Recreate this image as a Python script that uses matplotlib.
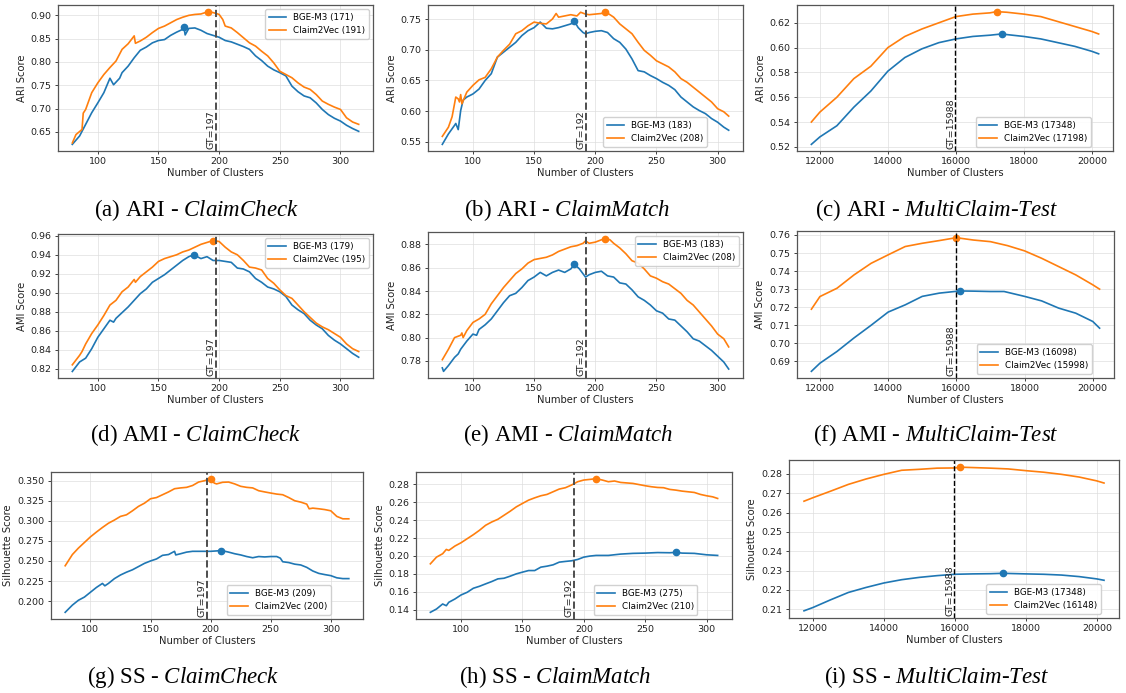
import matplotlib
matplotlib.use('Agg')
import matplotlib.pyplot as plt
import matplotlib.transforms as mtransforms
from matplotlib.ticker import MultipleLocator

plt.rcParams['mathtext.fontset'] = 'custom'
plt.rcParams['mathtext.rm'] = 'Liberation Serif'
plt.rcParams['mathtext.it'] = 'Liberation Serif:italic'

BLUE = '#1f77b4'
ORANGE = '#ff7f0e'

# ---- (a) ARI - ClaimCheck
a_bge_x = [79,85,90,95,100,105,110,113,118,120,125,130,135,140,145,150,155,160,165,170,171,172,175,180,185,190,195,200,205,210,215,220,225,230,235,240,245,250,255,260,265,270,275,280,285,290,295,300,305,310,315]
a_bge = [0.623,0.641,0.666,0.691,0.712,0.734,0.765,0.751,0.765,0.777,0.791,0.809,0.825,0.832,0.841,0.846,0.848,0.857,0.864,0.870,0.875,0.858,0.872,0.873,0.868,0.861,0.857,0.853,0.846,0.843,0.838,0.833,0.827,0.813,0.803,0.791,0.783,0.777,0.770,0.748,0.736,0.727,0.723,0.712,0.698,0.687,0.679,0.673,0.664,0.657,0.651]
a_c2v_x = [79,82,87,88,90,95,100,105,110,115,120,125,130,131,135,140,145,150,155,160,165,170,175,180,185,191,195,200,203,205,210,215,220,225,230,235,240,245,250,255,260,265,270,275,280,285,290,295,300,305,310,315]
a_c2v = [0.626,0.644,0.655,0.690,0.698,0.734,0.755,0.773,0.788,0.802,0.827,0.839,0.856,0.840,0.845,0.853,0.863,0.872,0.877,0.884,0.891,0.896,0.900,0.902,0.903,0.908,0.906,0.902,0.891,0.877,0.873,0.863,0.852,0.841,0.834,0.823,0.813,0.798,0.780,0.773,0.766,0.755,0.746,0.741,0.730,0.716,0.709,0.703,0.698,0.680,0.671,0.666]

# ---- (b) ARI - ClaimMatch
b_bge_x = [75,80,85,86,88,90,92,95,100,105,110,115,120,125,130,135,140,145,150,155,160,165,170,175,180,183,186,190,192,195,200,205,210,215,220,225,230,235,240,245,250,255,260,265,270,275,280,285,290,295,300,305,309]
b_bge = [0.546,0.563,0.577,0.580,0.570,0.601,0.618,0.623,0.628,0.636,0.650,0.661,0.688,0.696,0.704,0.712,0.723,0.731,0.736,0.745,0.735,0.734,0.736,0.739,0.742,0.746,0.736,0.728,0.726,0.728,0.730,0.731,0.728,0.718,0.712,0.701,0.685,0.666,0.664,0.658,0.653,0.647,0.642,0.635,0.623,0.615,0.607,0.601,0.596,0.588,0.582,0.574,0.569]
b_c2v_x = [75,80,83,86,88,89,90,91,95,100,105,110,115,120,125,130,135,140,145,150,155,160,165,168,170,175,180,185,188,192,195,200,205,208,212,215,220,225,230,235,240,245,250,255,260,265,270,275,280,285,290,295,300,305,309]
b_c2v = [0.559,0.574,0.591,0.623,0.620,0.615,0.627,0.612,0.631,0.642,0.651,0.655,0.669,0.688,0.699,0.709,0.726,0.731,0.739,0.745,0.743,0.742,0.750,0.759,0.753,0.755,0.757,0.755,0.761,0.758,0.757,0.758,0.759,0.762,0.757,0.753,0.742,0.734,0.726,0.712,0.699,0.691,0.682,0.677,0.672,0.664,0.653,0.647,0.639,0.631,0.623,0.615,0.604,0.599,0.592]

# ---- (c) ARI - MultiClaim-Test
c_bge_x = [11750,12000,12500,13000,13500,14000,14500,15000,15500,16000,16500,17000,17348,17500,18000,18500,19000,19500,20000,20200]
c_bge = [0.522,0.528,0.537,0.552,0.565,0.581,0.592,0.599,0.604,0.607,0.609,0.610,0.611,0.6105,0.609,0.607,0.604,0.601,0.597,0.595]
c_c2v_x = [11750,12000,12500,13000,13500,14000,14500,15000,15500,16000,16500,17000,17198,17500,18000,18500,19000,19500,20000,20200]
c_c2v = [0.540,0.548,0.560,0.575,0.585,0.600,0.609,0.615,0.620,0.625,0.627,0.628,0.629,0.6285,0.627,0.625,0.621,0.617,0.613,0.611]

# ---- (d) AMI - ClaimCheck
d_bge_x = [79,85,90,95,100,105,110,113,115,120,125,130,135,140,145,150,155,160,165,170,175,179,185,190,195,200,205,210,215,220,225,230,235,240,245,250,255,260,265,270,275,280,285,290,295,300,305,310,315]
d_bge = [0.817,0.827,0.831,0.841,0.853,0.862,0.871,0.869,0.873,0.879,0.885,0.892,0.899,0.904,0.911,0.915,0.919,0.924,0.929,0.934,0.938,0.940,0.936,0.938,0.934,0.934,0.933,0.932,0.926,0.925,0.922,0.915,0.911,0.906,0.904,0.901,0.896,0.887,0.882,0.878,0.871,0.866,0.862,0.855,0.850,0.846,0.841,0.836,0.832]
d_c2v_x = [79,82,85,87,90,95,100,105,110,115,120,125,130,131,135,140,145,150,155,160,165,170,175,180,185,190,195,200,205,210,215,220,225,230,235,240,245,250,255,260,265,270,275,280,285,290,295,300,305,310,315]
d_c2v = [0.824,0.829,0.834,0.838,0.846,0.857,0.866,0.876,0.887,0.892,0.901,0.906,0.914,0.911,0.917,0.922,0.927,0.933,0.936,0.938,0.940,0.943,0.945,0.948,0.951,0.953,0.955,0.954,0.948,0.943,0.940,0.934,0.927,0.926,0.924,0.915,0.910,0.903,0.897,0.894,0.887,0.880,0.874,0.868,0.864,0.861,0.857,0.853,0.846,0.841,0.838]

# ---- (e) AMI - ClaimMatch
e_bge_x = [75,76,80,85,88,90,95,100,103,105,110,115,120,125,130,135,140,145,150,155,160,165,170,175,180,183,187,192,195,200,205,210,215,220,225,230,235,240,245,250,255,260,265,270,275,280,285,290,295,300,305,309]
e_bge = [0.774,0.771,0.776,0.783,0.786,0.790,0.797,0.803,0.802,0.807,0.811,0.816,0.823,0.830,0.836,0.838,0.843,0.849,0.852,0.856,0.853,0.856,0.858,0.856,0.859,0.863,0.859,0.852,0.854,0.856,0.857,0.853,0.852,0.847,0.846,0.841,0.835,0.832,0.828,0.823,0.821,0.816,0.815,0.810,0.805,0.799,0.797,0.793,0.789,0.784,0.779,0.773]
e_c2v_x = [75,80,85,90,91,92,95,100,105,110,115,120,125,130,135,140,145,150,155,160,165,170,175,180,185,190,192,195,200,205,208,212,215,220,225,230,235,240,245,250,255,260,265,270,275,280,285,290,295,300,305,309]
e_c2v = [0.781,0.790,0.800,0.802,0.804,0.800,0.806,0.813,0.816,0.820,0.829,0.836,0.843,0.849,0.855,0.859,0.864,0.867,0.868,0.869,0.871,0.874,0.876,0.878,0.879,0.881,0.883,0.881,0.882,0.884,0.885,0.884,0.881,0.877,0.872,0.866,0.864,0.859,0.853,0.851,0.848,0.846,0.842,0.838,0.832,0.828,0.822,0.816,0.810,0.803,0.799,0.792]

# ---- (f) AMI - MultiClaim-Test
f_bge_x = [11750,12000,12500,13000,13500,14000,14500,15000,15500,16000,16098,16500,17000,17400,18000,18500,19000,19500,20000,20200]
f_bge = [0.6845,0.689,0.6955,0.703,0.710,0.7173,0.7213,0.726,0.7278,0.7288,0.729,0.7289,0.7287,0.7287,0.726,0.7235,0.7195,0.7167,0.7121,0.7084]
f_c2v_x = [11750,12000,12500,13000,13500,14000,14500,15000,15500,15998,16500,17000,17500,18000,18500,19000,19500,20000,20200]
f_c2v = [0.7189,0.7259,0.7305,0.7379,0.7443,0.749,0.7536,0.7554,0.7569,0.7585,0.7572,0.7563,0.7541,0.7512,0.7471,0.7425,0.7379,0.7324,0.730]

# ---- (g) SS - ClaimCheck
g_bge_x = [79,85,90,95,100,105,110,112,115,120,125,130,135,140,145,150,155,160,165,170,171,175,180,185,190,195,200,205,209,212,215,220,225,230,235,240,245,250,255,258,260,265,270,275,280,285,290,295,300,305,310,315]
g_bge = [0.186,0.195,0.201,0.205,0.211,0.217,0.222,0.219,0.222,0.228,0.2325,0.236,0.239,0.243,0.247,0.250,0.2525,0.257,0.258,0.262,0.2575,0.259,0.261,0.262,0.262,0.262,0.262,0.2625,0.263,0.262,0.261,0.259,0.2575,0.2555,0.254,0.2555,0.255,0.2555,0.2555,0.2535,0.249,0.248,0.246,0.245,0.242,0.2375,0.2345,0.233,0.2317,0.229,0.228,0.228]
g_c2v_x = [79,85,90,95,100,105,110,115,120,125,130,135,140,145,150,155,160,165,170,175,180,185,190,195,200,203,205,210,215,220,225,230,235,240,245,250,255,260,265,270,275,280,282,285,290,295,300,303,305,310,315]
g_c2v = [0.244,0.258,0.266,0.273,0.280,0.286,0.2917,0.297,0.301,0.3055,0.3075,0.3125,0.318,0.322,0.3275,0.329,0.3325,0.336,0.340,0.341,0.3417,0.344,0.3483,0.350,0.3525,0.347,0.346,0.348,0.3483,0.346,0.343,0.3417,0.341,0.3375,0.336,0.3346,0.3333,0.3325,0.329,0.325,0.3233,0.3208,0.315,0.3158,0.315,0.314,0.3125,0.3083,0.3055,0.3025,0.3025]

# ---- (h) SS - ClaimMatch
h_bge_x = [75,80,85,88,90,95,100,105,110,115,120,125,130,135,140,145,150,155,160,165,170,175,180,185,190,195,200,205,210,220,230,240,250,260,270,275,280,290,300,309]
h_bge = [0.137,0.1407,0.1463,0.1444,0.1482,0.1519,0.1564,0.1594,0.1639,0.1661,0.1688,0.1714,0.1744,0.1751,0.1774,0.180,0.1819,0.1837,0.1837,0.1875,0.1886,0.1901,0.1931,0.1939,0.1946,0.1961,0.1987,0.1999,0.2006,0.2006,0.2021,0.2029,0.2032,0.2038,0.2036,0.204,0.2032,0.2029,0.2013,0.2006]
h_c2v_x = [75,80,85,88,90,95,100,105,110,115,120,125,130,135,140,145,150,155,160,165,170,175,180,185,190,195,200,205,210,215,220,225,230,240,250,255,260,265,270,275,280,290,295,300,305,309]
h_c2v = [0.1912,0.1987,0.2025,0.2073,0.2062,0.2111,0.2148,0.2193,0.2238,0.2287,0.2343,0.238,0.241,0.2455,0.250,0.2549,0.2587,0.2624,0.265,0.2673,0.2688,0.2718,0.2748,0.2763,0.2793,0.283,0.2849,0.2856,0.2864,0.2849,0.283,0.2838,0.2822,0.2811,0.2785,0.2774,0.2766,0.2763,0.2744,0.2736,0.2725,0.271,0.2688,0.2673,0.2661,0.2643]

# ---- (i) SS - MultiClaim-Test
i_bge_x = [11750,12000,12500,13000,13500,14000,14500,15000,15500,16000,16500,17000,17348,18000,18500,19000,19500,20000,20200]
i_bge = [0.2092,0.2109,0.2149,0.2187,0.2213,0.2236,0.2253,0.2265,0.2274,0.2281,0.2283,0.2284,0.2286,0.2283,0.2281,0.2277,0.2269,0.2257,0.225]
i_c2v_x = [11750,12000,12500,13000,13500,14000,14500,15000,15500,16000,16148,16500,17000,17500,18000,18500,19000,19500,20000,20200]
i_c2v = [0.2659,0.2677,0.2711,0.2746,0.2774,0.2798,0.2819,0.2824,0.283,0.2831,0.2835,0.2833,0.283,0.2826,0.2817,0.2809,0.2798,0.2784,0.2764,0.2753]

gt_values = {'ClaimCheck': 197, 'ClaimMatch': 192, 'MultiClaim-Test': 15988}
best_bge = [171, 183, 17348, 179, 183, 16098, 209, 275, 17348]
best_c2v = [191, 208, 17198, 195, 208, 15998, 200, 210, 16148]
y_steps = [0.05, 0.05, 0.02, 0.02, 0.02, 0.01, 0.025, 0.02, 0.01]

W, H = 1126, 693
fig = plt.figure(figsize=(W / 100, H / 100), dpi=100)

# (letter, metric, dataset, ylabel, axes box px (l, t, r, b), legend anchor, caption center px)
panels = [
    ('a', 'ARI', 'ClaimCheck', 'ARI Score', (58, 5, 373, 151), None, (196, 210), a_bge_x, a_bge, a_c2v_x, a_c2v),
    ('b', 'ARI', 'ClaimMatch', 'ARI Score', (428, 5, 743, 151), 0.90, (567, 210), b_bge_x, b_bge, b_c2v_x, b_c2v),
    ('c', 'ARI', 'MultiClaim-Test', 'ARI Score', (797, 5, 1113, 151), 0.943, (937, 210), c_bge_x, c_bge, c_c2v_x, c_c2v),
    ('d', 'AMI', 'ClaimCheck', 'AMI Score', (58, 234, 373, 378), None, (196, 435), d_bge_x, d_bge, d_c2v_x, d_c2v),
    ('e', 'AMI', 'ClaimMatch', 'AMI Score', (428, 232, 743, 378), None, (568, 435), e_bge_x, e_bge, e_c2v_x, e_c2v),
    ('f', 'AMI', 'MultiClaim-Test', 'AMI Score', (797, 231, 1114, 378), 0.943, (936, 435), f_bge_x, f_bge, f_c2v_x, f_c2v),
    ('g', 'SS', 'ClaimCheck', 'Silhouette Score', (51, 472, 363, 619), 0.91, (183, 677), g_bge_x, g_bge, g_c2v_x, g_c2v),
    ('h', 'SS', 'ClaimMatch', 'Silhouette Score', (416, 472, 732, 619), 0.904, (555, 677), h_bge_x, h_bge, h_c2v_x, h_c2v),
    ('i', 'SS', 'MultiClaim-Test', 'Silhouette Score', (789, 460, 1119, 618), 0.958, (937, 677), i_bge_x, i_bge, i_c2v_x, i_c2v),
]

for k, (letter, metric, dset, ylab, box, leg_x, cap, xb, yb, xc, yc) in enumerate(panels):
    l, t, r, b = box
    ax = fig.add_axes([l / W, 1 - b / H, (r - l) / W, (b - t) / H])
    ax.plot(xb, yb, color=BLUE, lw=1.2, label=f'BGE-M3 ({best_bge[k]})')
    ax.plot(xc, yc, color=ORANGE, lw=1.2, label=f'Claim2Vec ({best_c2v[k]})')
    ax.plot(best_bge[k], yb[xb.index(best_bge[k])], 'o', color=BLUE, ms=4.5)
    ax.plot(best_c2v[k], yc[xc.index(best_c2v[k])], 'o', color=ORANGE, ms=4.5)

    gt = gt_values[dset]
    multi = dset.startswith('Multi')
    ax.axvline(gt, color='k' if multi else '0.3', ls='--', lw=1.0 if multi else 1.4)
    trans = mtransforms.blended_transform_factory(ax.transData, ax.transAxes)
    ax.text(gt, 0.015, f'GT={gt}', rotation=90, ha='right', va='bottom',
            fontsize=6.8, color='#222222', transform=trans)

    ax.yaxis.set_major_locator(MultipleLocator(y_steps[k]))
    ax.grid(True, color='#dddddd', lw=0.6, alpha=0.8)
    ax.set_axisbelow(True)
    ax.set_xlabel('Number of Clusters', fontsize=7.2, labelpad=1.5, color='#222222')
    ax.set_ylabel(ylab, fontsize=7.2, labelpad=3, color='#222222')
    ax.tick_params(labelsize=6.8, length=2.5, width=0.6, pad=2, colors='#222222')
    for sp in ax.spines.values():
        sp.set_color('#555555')
        sp.set_linewidth(0.9)

    if leg_x is None:
        ax.legend(loc='upper right', fontsize=6.3, framealpha=0.9)
    else:
        ax.legend(loc='lower right', bbox_to_anchor=(leg_x, 0.0), fontsize=6.3, framealpha=0.9)

    fig.text(cap[0] / W, 1 - cap[1] / H, f'({letter}) {metric} - ' + r'$\mathit{' + dset.replace('-', '}$-$\\mathit{') + '}$',
             ha='center', va='center', fontsize=16.5, family='Liberation Serif')

fig.savefig('out.png', dpi=100)
